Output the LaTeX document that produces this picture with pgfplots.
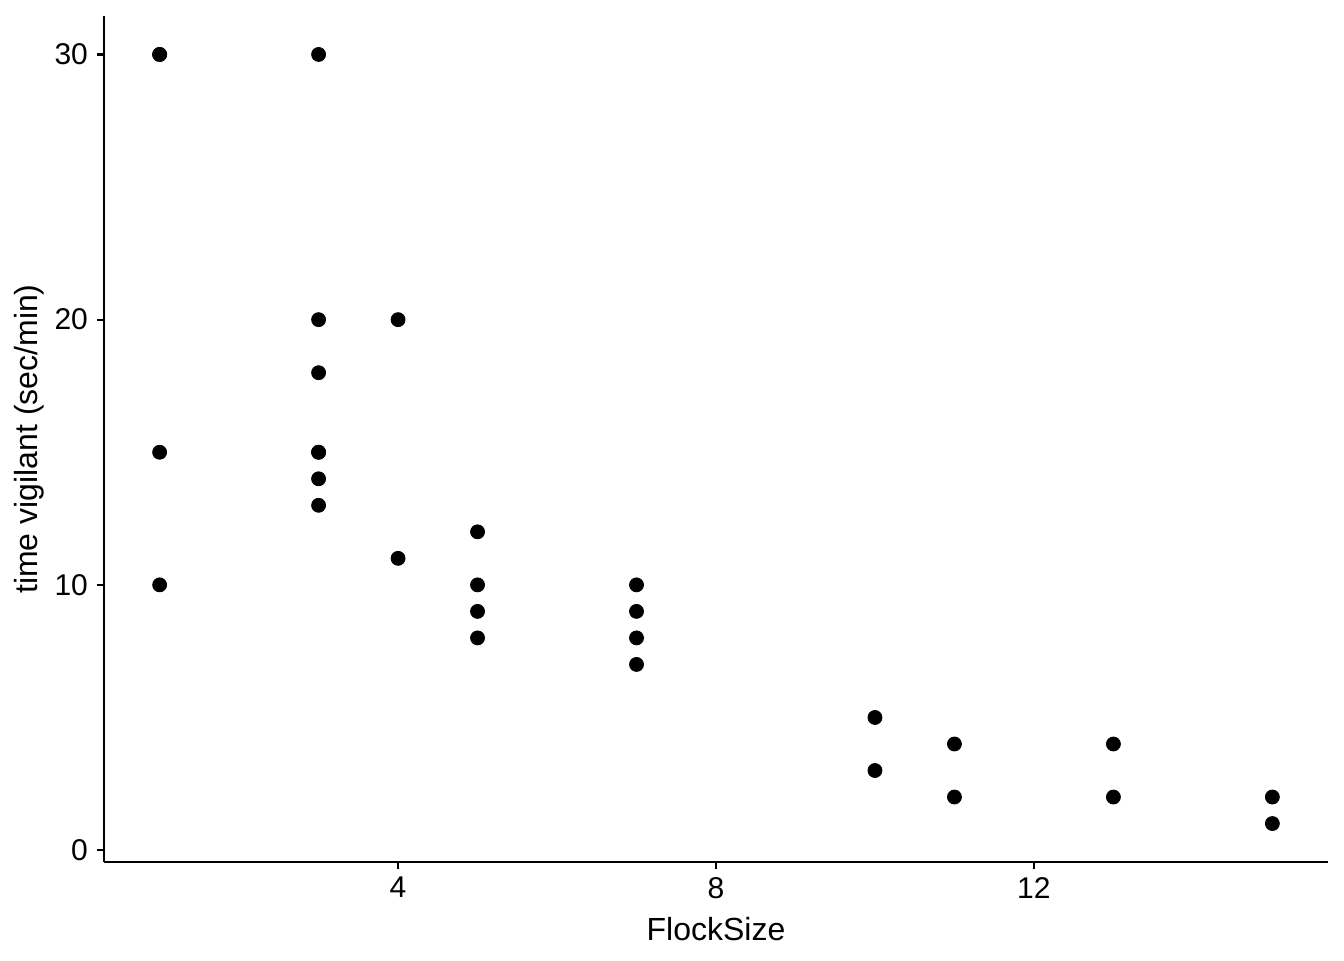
\documentclass[border=0pt]{standalone}
\usepackage{pgfplots}
\pgfplotsset{compat=1.18}
\usepackage{fontspec}
\setmainfont{Liberation Sans}
\begin{document}
\begin{tikzpicture}
\useasboundingbox (-52pt,-49pt) rectangle (620pt,431pt);
\begin{axis}[
  at={(0,0)}, anchor=south west,
  scale only axis,
  width=612pt, height=423pt,
  xmin=0.3, xmax=15.7,
  ymin=-0.45, ymax=31.45,
  axis x line*=bottom, axis y line*=left,
  axis line style={line width=1.1pt, -},
  xtick={4,8,12}, ytick={0,10,20,30},
  tick style={line width=1.1pt, black},
  tick align=outside,
  major tick length=3.5pt,
  tick label style={font=\fontsize{15}{18}\selectfont},
  /pgf/number format/assume math mode=true,
  xticklabel style={yshift=-0.5pt},
  yticklabel style={xshift=-1pt},
  xlabel={FlockSize},
  ylabel={time vigilant (sec/min)},
  label style={font=\fontsize{16}{19}\selectfont},
  xlabel style={at={(axis description cs:0.5,0)}, anchor=north, yshift=-24pt},
  ylabel style={at={(axis description cs:0,0.5)}, anchor=south, yshift=26.5pt},
  clip=false,
]
\addplot[only marks, mark=*, mark size=3.5pt, black] coordinates {
  (1,30) (1,30) (1,15) (1,10)
  (3,30) (3,20) (3,18) (3,15) (3,15) (3,14) (3,13)
  (4,20) (4,11)
  (5,12) (5,10) (5,9) (5,8)
  (7,10) (7,9) (7,8) (7,7)
  (10,5) (10,3)
  (11,4) (11,2)
  (13,4) (13,2)
  (15,2) (15,1)
};
\end{axis}
\end{tikzpicture}
\end{document}
